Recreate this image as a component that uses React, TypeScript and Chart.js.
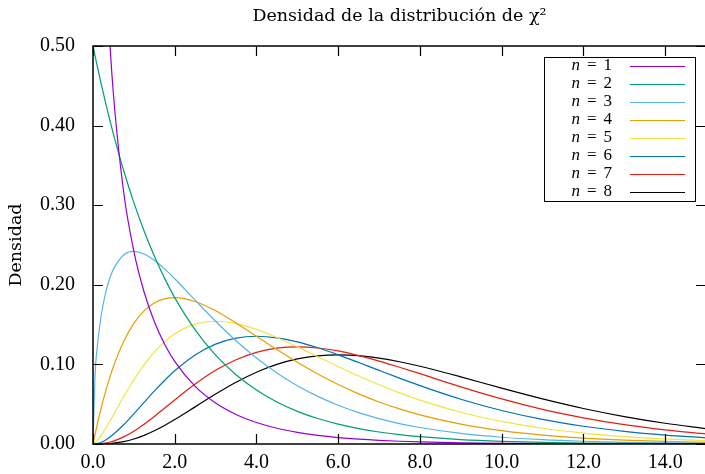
import React, { useEffect, useRef } from "react";
import { Chart, registerables } from "chart.js";

Chart.register(...registerables);

const xValues = [0, 0.05, 0.1, 0.2, 0.3, 0.4, 0.5, 0.75, 1, 1.25, 1.5, 1.75, 2, 2.5, 3, 3.5, 4, 4.5, 5, 5.5, 6, 6.5, 7, 7.5, 8, 9, 10, 11, 12, 13, 14, 15];

const n1 = [null, 1.740, 1.200, 0.807, 0.627, 0.5164, 0.4394, 0.3166, 0.2420, 0.1910, 0.1539, 0.1257, 0.1038, 0.0723, 0.0514, 0.0371, 0.0270, 0.0198, 0.01465, 0.01087, 0.00811, 0.00607, 0.00455, 0.00343, 0.00258, 0.00148, 0.00085, 0.00049, 0.00029, 0.00017, 0.0001, 0.00006];
const n2 = [0.5, 0.4877, 0.4756, 0.4524, 0.4304, 0.4094, 0.3894, 0.3436, 0.3033, 0.2676, 0.2362, 0.2084, 0.1839, 0.1433, 0.1116, 0.0869, 0.0677, 0.0527, 0.0410, 0.0320, 0.0249, 0.0194, 0.0151, 0.0118, 0.0092, 0.0056, 0.0034, 0.0020, 0.0012, 0.00075, 0.00046, 0.00028];
const n3 = [0, 0.0870, 0.1200, 0.1614, 0.1881, 0.2066, 0.2197, 0.2375, 0.2420, 0.2387, 0.2308, 0.2200, 0.2076, 0.1807, 0.1542, 0.1297, 0.1080, 0.0892, 0.0732, 0.0598, 0.0487, 0.0394, 0.0319, 0.0257, 0.0207, 0.0133, 0.0085, 0.0054, 0.00343, 0.00216, 0.00136, 0.00085];
const n4 = [0, 0.01219, 0.02378, 0.04524, 0.06455, 0.08187, 0.09735, 0.12887, 0.15163, 0.16727, 0.17714, 0.18238, 0.18394, 0.17906, 0.16735, 0.15205, 0.13534, 0.11858, 0.10261, 0.08790, 0.07468, 0.06301, 0.05284, 0.04410, 0.03663, 0.02500, 0.01684, 0.01124, 0.00744, 0.00489, 0.00319, 0.00207];
const n5 = [0, 0.00145, 0.0040, 0.01076, 0.01881, 0.02755, 0.03662, 0.05937, 0.08066, 0.09946, 0.1154, 0.12833, 0.1384, 0.15058, 0.1542, 0.15132, 0.1440, 0.1338, 0.1220, 0.10963, 0.0974, 0.08537, 0.07443, 0.06425, 0.0552, 0.0399, 0.02833, 0.0198, 0.01372, 0.00936, 0.00635, 0.00425];
const n6 = [0, 0.00015, 0.00059, 0.00226, 0.00484, 0.00819, 0.01217, 0.02416, 0.03791, 0.05227, 0.06643, 0.07979, 0.09197, 0.11191, 0.12551, 0.13304, 0.13534, 0.13340, 0.12826, 0.12086, 0.11202, 0.10239, 0.09247, 0.08269, 0.07326, 0.05625, 0.0421, 0.03091, 0.02232, 0.01589, 0.01117, 0.00776];
const n7 = [0, 0.0000145, 0.00008, 0.00043, 0.00113, 0.0022, 0.00366, 0.00891, 0.01613, 0.02487, 0.03462, 0.04492, 0.05536, 0.07529, 0.09252, 0.10592, 0.1152, 0.12042, 0.1220, 0.12059, 0.11688, 0.11098, 0.1042, 0.09638, 0.08832, 0.07182, 0.05666, 0.04356, 0.03293, 0.02434, 0.01778, 0.01275];
const n8 = [0, 0.000001, 0.00001, 0.000075, 0.00024, 0.00055, 0.00101, 0.00302, 0.00632, 0.01089, 0.01661, 0.02327, 0.03066, 0.04663, 0.06276, 0.07761, 0.09023, 0.10005, 0.10688, 0.11079, 0.11202, 0.11092, 0.10788, 0.10336, 0.09768, 0.08438, 0.07017, 0.05667, 0.04464, 0.03443, 0.02606, 0.0194];

const seriesValues = [n1, n2, n3, n4, n5, n6, n7, n8];
const seriesLabels = ["1", "2", "3", "4", "5", "6", "7", "8"];
const seriesColors = ["#9400D3", "#009E73", "#56B4E9", "#E69F00", "#F0E442", "#0072B2", "#E51E10", "#000000"];

const xTicks = [0, 2, 4, 6, 8, 10, 12, 14];
const yTicks = [0, 0.1, 0.2, 0.3, 0.4, 0.5];

const titleText = "Densidad de la distribución de χ²";
const yTitle = "Densidad";

const SERIF = "'Liberation Serif', 'Times New Roman', serif";
const WIDE_SERIF = "'DejaVu Serif', 'Liberation Serif', serif";

const framePlugin = {
  id: "gnuplotFrame",
  afterDatasetsDraw(chart: any) {
    const ctx = chart.ctx;
    const { left, right, top, bottom } = chart.chartArea;
    const xs = chart.scales.x;
    const ys = chart.scales.y;
    ctx.save();
    ctx.strokeStyle = "#000";
    ctx.lineWidth = 1.5;
    ctx.strokeRect(left, top, right - left, bottom - top);
    ctx.lineWidth = 1.2;
    const tl = 10;
    ctx.beginPath();
    for (const v of xTicks) {
      const px = Math.round(xs.getPixelForValue(v)) + 0.5;
      ctx.moveTo(px, bottom);
      ctx.lineTo(px, bottom - tl);
      ctx.moveTo(px, top);
      ctx.lineTo(px, top + tl);
    }
    for (const v of yTicks) {
      const py = Math.round(ys.getPixelForValue(v)) + 0.5;
      ctx.moveTo(left, py);
      ctx.lineTo(left + tl, py);
      ctx.moveTo(right, py);
      ctx.lineTo(right - tl, py);
    }
    ctx.stroke();

    // legend box (gnuplot style: label, then line sample)
    const bx = 544, by = 57, bw = 151, bh = 144;
    ctx.fillStyle = "#fff";
    ctx.fillRect(bx, by, bw, bh);
    ctx.lineWidth = 1;
    ctx.strokeStyle = "#000";
    ctx.strokeRect(bx + 0.5, by + 0.5, bw, bh);
    ctx.textBaseline = "middle";
    ctx.textAlign = "right";
    const gap = 7;
    chart.data.datasets.forEach((ds: any, i: number) => {
      const y = 65.7 + i * 18;
      let xr = 612;
      ctx.fillStyle = "#000";
      ctx.font = "17px " + SERIF;
      ctx.fillText(seriesLabels[i], xr, y);
      xr -= ctx.measureText(seriesLabels[i]).width + gap;
      ctx.fillText("=", xr, y);
      xr -= ctx.measureText("=").width + gap;
      ctx.font = "italic 17px " + SERIF;
      ctx.fillText("n", xr, y);
      ctx.beginPath();
      ctx.strokeStyle = ds.borderColor;
      ctx.lineWidth = 1.2;
      ctx.moveTo(630, Math.round(y) + 0.5);
      ctx.lineTo(685, Math.round(y) + 0.5);
      ctx.stroke();
    });
    ctx.restore();
  },
};

export default function App() {
  const canvasRef = useRef<HTMLCanvasElement | null>(null);

  useEffect(() => {
    document.body.style.margin = "0";
    const canvas = canvasRef.current;
    if (!canvas) return;
    const chart = new Chart(canvas, {
      type: "line",
      data: {
        labels: xValues,
        datasets: seriesValues.map((vals, i) => ({
          label: "n = " + seriesLabels[i],
          data: xValues.map((x, j) => ({ x, y: vals[j] })),
          borderColor: seriesColors[i],
          backgroundColor: seriesColors[i],
          borderWidth: 1.2,
          pointRadius: 0,
          fill: false,
          cubicInterpolationMode: "monotone" as const,
          spanGaps: true,
        })),
      },
      options: {
        responsive: false,
        animation: false,
        devicePixelRatio: 1,
        layout: { padding: { left: 0, right: 6, top: 0, bottom: 0 } },
        plugins: {
          legend: { display: false },
          tooltip: { enabled: false },
          title: {
            display: true,
            fullSize: false,
            text: titleText,
            color: "#000",
            font: { family: WIDE_SERIF, size: 17.5, weight: "normal" as const },
            padding: { top: 6, bottom: 19 },
          },
        },
        scales: {
          x: {
            type: "linear",
            min: 0,
            max: 15,
            grid: { display: false, drawTicks: false },
            border: { display: false },
            afterBuildTicks: (s: any) => {
              s.ticks = xTicks.map((v) => ({ value: v }));
            },
            afterFit: (s: any) => {
              s.height = 27.5;
            },
            ticks: {
              color: "#000",
              padding: 7,
              maxRotation: 0,
              font: { family: SERIF, size: 20 },
              callback: (v: any) => Number(v).toFixed(1),
            },
          },
          y: {
            type: "linear",
            min: 0,
            max: 0.5,
            grid: { display: false, drawTicks: false },
            border: { display: false },
            afterBuildTicks: (s: any) => {
              s.ticks = yTicks.map((v) => ({ value: v }));
            },
            afterFit: (s: any) => {
              s.width = 93;
            },
            title: {
              display: true,
              text: yTitle,
              color: "#000",
              font: { family: WIDE_SERIF, size: 17.5 },
              padding: { top: 6, bottom: 0 },
            },
            ticks: {
              color: "#000",
              padding: 18,
              font: { family: SERIF, size: 20 },
              callback: (v: any) => Number(v).toFixed(2),
            },
          },
        },
      },
      plugins: [framePlugin],
    });
    return () => chart.destroy();
  }, []);

  return (
    <div style={{ width: 705, height: 474, overflow: "hidden", position: "relative" }}>
      <canvas ref={canvasRef} width={712} height={474} style={{ display: "block", width: 712, height: 474 }} />
    </div>
  );
}
